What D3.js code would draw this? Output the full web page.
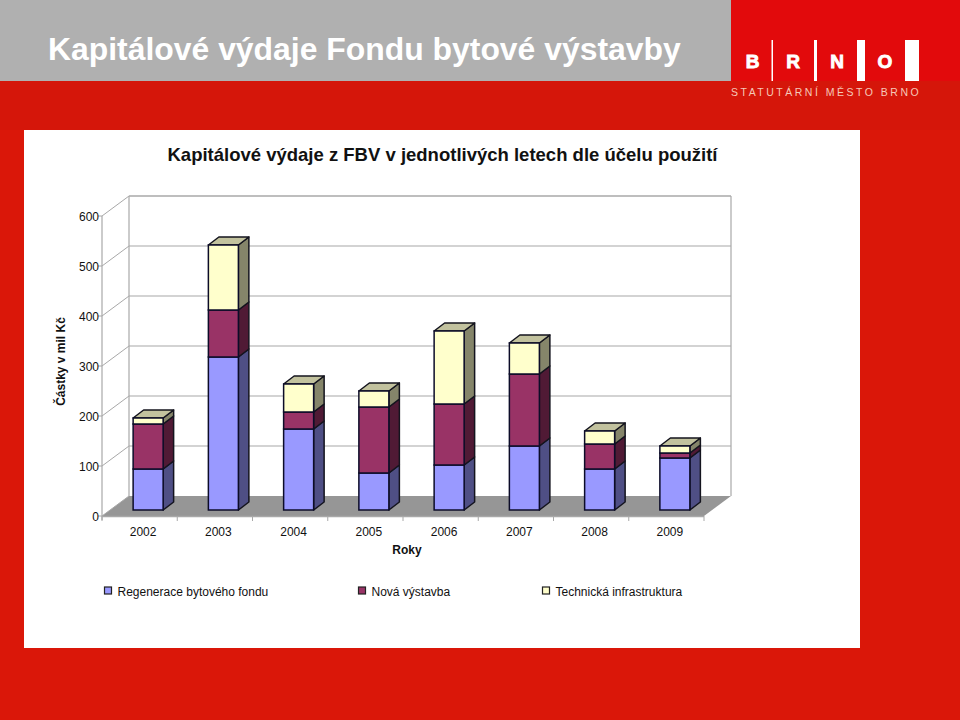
<!DOCTYPE html>
<html><head><meta charset="utf-8">
<script src="https://cdnjs.cloudflare.com/ajax/libs/d3/7.8.5/d3.min.js"></script>
<style>html,body{margin:0;padding:0;background:#d9170a}svg{display:block}text{font-family:"Liberation Sans",Arial,sans-serif}</style>
</head><body><svg id="c" width="960" height="720"></svg>
<script>
const years = ["2002","2003","2004","2005","2006","2007","2008","2009"];
const seriesNames = ["Regenerace bytového fondu","Nová výstavba","Technická infrastruktura"];
const regenerace = [82,306,162,74,90,128,82,104];
const novaVystavba = [90,94,34,132,122,144,50,10];
const infrastruktura = [12,130,56,32,146,62,26,14];
const yTicks = [0,100,200,300,400,500,600];
const fronts = ["#9999ff","#993366","#ffffcc"];
const sides = ["#4f4f85","#501a35","#85856a"];
const tops = ["#7a7acc","#7a2952","#c2c29e"];
const legendX = [104,358,542];

const svg = d3.select("#c");
svg.append("rect").attr("width",960).attr("height",720).attr("fill","#da1709");
// header
svg.append("rect").attr("width",731).attr("height",81).attr("fill","#b0b0b0");
svg.append("rect").attr("x",731).attr("width",229).attr("height",81).attr("fill","#e20a0c");
svg.append("rect").attr("y",81).attr("width",960).attr("height",49).attr("fill","#d5160a");
svg.append("text").attr("x",48).attr("y",60).attr("font-size",31.9).attr("font-weight","bold").attr("fill","#fff").text("Kapitálové výdaje Fondu bytové výstavby");
// logo
[["B",752.5],["R",793],["N",837],["O",885]].forEach(([t,x])=>svg.append("text").attr("x",x).attr("y",68).attr("text-anchor","middle").attr("font-size",19).attr("font-weight","bold").attr("stroke","#fff").attr("stroke-width",0.9).attr("fill","#fff").text(t));
[[771.5,1.5],[814,3],[857,8],[905,14]].forEach(([x,w])=>svg.append("rect").attr("x",x).attr("y",40).attr("width",w).attr("height",41).attr("fill","#fff"));
svg.append("text").attr("x",731).attr("y",96).attr("font-size",10.5).attr("letter-spacing","2.5").attr("fill","#f5c8b8").text("STATUTÁRNÍ MĚSTO BRNO");
// panel
svg.append("rect").attr("x",24).attr("y",130).attr("width",836).attr("height",518).attr("fill","#fff");
svg.append("text").attr("x",442.5).attr("y",161).attr("text-anchor","middle").attr("font-size",18.5).attr("font-weight","bold").attr("fill","#111").text("Kapitálové výdaje z FBV v jednotlivých letech dle účelu použití");

// plot geometry
const y = d3.scaleLinear().domain([0,600]).range([516,216]);
const x = d3.scaleBand().domain(years).range([102,704]);
const dxW = 27, dyW = -20;
const grid = "#c4c4c4", frame = "#a8a8a8";
// floor
svg.append("polygon").attr("points",[[102,516],[102+dxW,516+dyW],[704+dxW,516+dyW],[704,516]].join(" ")).attr("fill","#969696");
// wall gridlines
yTicks.forEach(t=>{
  if(t>0) svg.append("line").attr("x1",102+dxW).attr("x2",704+dxW).attr("y1",y(t)+dyW).attr("y2",y(t)+dyW).attr("stroke",t===600?frame:grid).attr("stroke-width",1.5);
  svg.append("line").attr("x1",102).attr("y1",y(t)).attr("x2",102+dxW).attr("y2",y(t)+dyW).attr("stroke",frame).attr("stroke-width",1);
  svg.append("line").attr("x1",98).attr("x2",102).attr("y1",y(t)).attr("y2",y(t)).attr("stroke",frame);
  svg.append("text").attr("x",99).attr("y",y(t)+4.5).attr("text-anchor","end").attr("font-size",12).attr("fill","#111").text(t);
});
svg.append("line").attr("x1",129).attr("x2",129).attr("y1",y(600)+dyW).attr("y2",y(0)+dyW).attr("stroke",frame).attr("stroke-width",1.2);
svg.append("line").attr("x1",731).attr("x2",731).attr("y1",y(600)+dyW).attr("y2",y(0)+dyW).attr("stroke",frame).attr("stroke-width",1.2);
svg.append("line").attr("x1",102).attr("x2",102).attr("y1",y(600)).attr("y2",y(0)+4).attr("stroke",frame).attr("stroke-width",1.2);
svg.append("line").attr("x1",102).attr("x2",704).attr("y1",516.5).attr("y2",516.5).attr("stroke",frame).attr("stroke-width",1.5);
x.domain().concat(["end"]).forEach((d,i)=>{
  const px = 102 + i*x.step();
  svg.append("line").attr("x1",px).attr("x2",px).attr("y1",516).attr("y2",521).attr("stroke",frame);
});
years.forEach(d=>svg.append("text").attr("x",x(d)+x.step()/2+3.5).attr("y",536).attr("text-anchor","middle").attr("font-size",12).attr("fill","#111").text(d));

// stacked 3D bars
const rows = years.map((d,i)=>({year:d,a:regenerace[i],b:novaVystavba[i],c:infrastruktura[i]}));
const stack = d3.stack().keys(["a","b","c"])(rows);
const barW = 30, bx = 10.5, by = -8, lift = 6, shift = 8.5;
const px = d=>x(d)+(x.step()-barW)/2+shift;
const py = v=>y(v)-lift;
const edge = "#0c0c28";
stack.forEach((layer,si)=>{
  const gr = svg.append("g");
  layer.forEach(p=>{
    const X = px(p.data.year), Y0 = py(p[0]), Y1 = py(p[1]);
    gr.append("polygon").attr("points",[[X+barW,Y1],[X+barW+bx,Y1+by],[X+barW+bx,Y0+by],[X+barW,Y0]].join(" "))
      .attr("fill",sides[si]).attr("stroke","#14141e").attr("stroke-width",1.5).attr("stroke-linejoin","round");
    if(si===2) gr.append("polygon").attr("points",[[X,Y1],[X+bx,Y1+by],[X+barW+bx,Y1+by],[X+barW,Y1]].join(" "))
      .attr("fill",tops[si]).attr("stroke","#14141e").attr("stroke-width",1.5).attr("stroke-linejoin","round");
    gr.append("rect").attr("x",X).attr("y",Y1).attr("width",barW).attr("height",Y0-Y1)
      .attr("fill",fronts[si]).attr("stroke",edge).attr("stroke-width",1.5);
  });
});

// axis titles
svg.append("text").attr("x",407).attr("y",554).attr("text-anchor","middle").attr("font-size",12).attr("font-weight","bold").attr("fill","#111").text("Roky");
svg.append("text").attr("transform","translate(65,361.5) rotate(-90)").attr("text-anchor","middle").attr("font-size",12).attr("font-weight","bold").attr("fill","#111").text("Částky v mil Kč");
// legend
seriesNames.forEach((n,i)=>{
  svg.append("rect").attr("x",legendX[i]+0.5).attr("y",587).attr("width",7).attr("height",7).attr("fill",fronts[i]).attr("stroke","#222").attr("stroke-width",1.2);
  svg.append("text").attr("x",legendX[i]+13.5).attr("y",596).attr("font-size",12).attr("fill","#111").text(n);
});
</script></body></html>
